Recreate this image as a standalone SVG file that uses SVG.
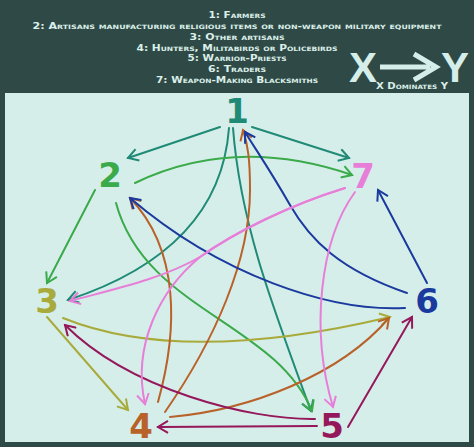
<svg xmlns="http://www.w3.org/2000/svg" width="474" height="447" viewBox="0 0 474 447">
<style>
.leg{font-family:"DejaVu Sans",sans-serif;font-weight:bold;font-size:8.5px;font-variant:small-caps;fill:#dcefe9;text-anchor:middle}
.big{font-family:"Liberation Sans",sans-serif;font-weight:bold;font-size:42px;fill:#d6eeea;text-anchor:middle}
.num{font-family:"DejaVu Sans",sans-serif;font-weight:bold;font-size:34px;text-anchor:middle}
.c{fill:none;stroke-width:2;stroke-linecap:round}
.teal{stroke:#1f8a76}.green{stroke:#3aaa4a}.olive{stroke:#a8ab3c}.orange{stroke:#b8622a}.purple{stroke:#94185a}.blue{stroke:#1b3a9e}.pink{stroke:#e77fd9}
</style>
<defs>
<marker id="mTeal" markerUnits="userSpaceOnUse" markerWidth="14" markerHeight="14" viewBox="0 0 14 14" refX="12" refY="7" orient="auto"><path d="M2,1 L12,7 L2,13" fill="none" stroke="#1f8a76" stroke-width="2"/></marker>
<marker id="mGreen" markerUnits="userSpaceOnUse" markerWidth="14" markerHeight="14" viewBox="0 0 14 14" refX="12" refY="7" orient="auto"><path d="M2,1 L12,7 L2,13" fill="none" stroke="#3aaa4a" stroke-width="2"/></marker>
<marker id="mOlive" markerUnits="userSpaceOnUse" markerWidth="14" markerHeight="14" viewBox="0 0 14 14" refX="12" refY="7" orient="auto"><path d="M2,1 L12,7 L2,13" fill="none" stroke="#a8ab3c" stroke-width="2"/></marker>
<marker id="mOrange" markerUnits="userSpaceOnUse" markerWidth="14" markerHeight="14" viewBox="0 0 14 14" refX="12" refY="7" orient="auto"><path d="M2,1 L12,7 L2,13" fill="none" stroke="#b8622a" stroke-width="2"/></marker>
<marker id="mPurple" markerUnits="userSpaceOnUse" markerWidth="14" markerHeight="14" viewBox="0 0 14 14" refX="12" refY="7" orient="auto"><path d="M2,1 L12,7 L2,13" fill="none" stroke="#94185a" stroke-width="2"/></marker>
<marker id="mBlue" markerUnits="userSpaceOnUse" markerWidth="14" markerHeight="14" viewBox="0 0 14 14" refX="12" refY="7" orient="auto"><path d="M2,1 L12,7 L2,13" fill="none" stroke="#1b3a9e" stroke-width="2"/></marker>
<marker id="mPink" markerUnits="userSpaceOnUse" markerWidth="14" markerHeight="14" viewBox="0 0 14 14" refX="12" refY="7" orient="auto"><path d="M2,1 L12,7 L2,13" fill="none" stroke="#e77fd9" stroke-width="2"/></marker>
</defs>
<rect x="0" y="0" width="474" height="447" fill="#2f4a46"/>
<rect x="5" y="93" width="464" height="349" fill="#d6eeea"/>
<g id="legend">
<text class="leg" x="237" y="18" textLength="57" lengthAdjust="spacingAndGlyphs">1: Farmers</text>
<text class="leg" x="237" y="28.8" textLength="409" lengthAdjust="spacingAndGlyphs">2: Artisans manufacturing religious items or non-weapon military equipment</text>
<text class="leg" x="237" y="39.7" textLength="95" lengthAdjust="spacingAndGlyphs">3: Other artisans</text>
<text class="leg" x="237" y="50.5" textLength="201" lengthAdjust="spacingAndGlyphs">4: Hunters, Militabirds or Policebirds</text>
<text class="leg" x="237" y="61.3" textLength="99" lengthAdjust="spacingAndGlyphs">5: Warrior-Priests</text>
<text class="leg" x="237" y="72.2" textLength="58" lengthAdjust="spacingAndGlyphs">6: Traders</text>
<text class="leg" x="237" y="83" textLength="162" lengthAdjust="spacingAndGlyphs">7: Weapon-Making Blacksmiths</text>
</g>
<g id="key">
<text class="big" x="363" y="82">X</text>
<path d="M380,67 L430,67 M414,54 L436,67 L414,80" fill="none" stroke="#d6eeea" stroke-width="5"/>
<text class="big" x="455" y="82">Y</text>
<text class="leg" x="412" y="89" textLength="72" lengthAdjust="spacingAndGlyphs">X Dominates Y</text>
</g>
<g id="connectors">
<path id="e1-2" class="c teal" d="M220,127 L128,158" marker-end="url(#mTeal)"/>
<path id="e1-7" class="c teal" d="M252,127 L349,158" marker-end="url(#mTeal)"/>
<path id="e1-3" class="c teal" d="M229,128 Q220,250 68,300" marker-end="url(#mTeal)"/>
<path id="e1-5" class="c teal" d="M233,128 C240,220 270,300 311,411" marker-end="url(#mTeal)"/>
<path id="e2-7" class="c green" d="M135,183 Q235,135 352,175" marker-end="url(#mGreen)"/>
<path id="e2-3" class="c green" d="M95,190 L47,283" marker-end="url(#mGreen)"/>
<path id="e2-5" class="c green" d="M116,203 C145,310 275,322 312,411" marker-end="url(#mGreen)"/>
<path id="e3-4" class="c olive" d="M47,317 L128,410" marker-end="url(#mOlive)"/>
<path id="e3-6" class="c olive" d="M63,318 C130,345 230,355 390,317" marker-end="url(#mOlive)"/>
<path id="e4-1" class="c orange" d="M165,412 C215,340 250,260 250,190 C250,160 248,145 243,130" marker-end="url(#mOrange)"/>
<path id="e4-2" class="c orange" d="M158,402 C178,330 180,250 130,198" marker-end="url(#mOrange)"/>
<path id="e4-6" class="c orange" d="M170,417 C250,410 340,375 389,318" marker-end="url(#mOrange)"/>
<path id="e5-4" class="c purple" d="M317,426 L158,427" marker-end="url(#mPurple)"/>
<path id="e5-3" class="c purple" d="M315,419 C250,420 130,390 65,325" marker-end="url(#mPurple)"/>
<path id="e5-6" class="c purple" d="M348,427 L412,317" marker-end="url(#mPurple)"/>
<path id="e6-7" class="c blue" d="M427,283 L378,190" marker-end="url(#mBlue)"/>
<path id="e6-2" class="c blue" d="M405,308 C330,312 220,275 130,198" marker-end="url(#mBlue)"/>
<path id="e6-1" class="c blue" d="M407,293 C340,270 310,240 290,205 C270,170 256,150 245,132" marker-end="url(#mBlue)"/>
<path id="e7-3" class="c pink" d="M345,188 C290,205 235,232 200,257 C160,280 110,290 70,301" marker-end="url(#mPink)"/>
<path id="e7-4" class="c pink" d="M345,188 C290,205 235,232 200,257 C160,290 132,345 145,404" marker-end="url(#mPink)"/>
<path id="e7-5" class="c pink" d="M355,192 C320,240 310,330 333,407" marker-end="url(#mPink)"/>
</g>
<g id="node1"><text class="num" x="237" y="123" fill="#1f8a76">1</text></g>
<g id="node2"><text class="num" x="110" y="187" fill="#3aaa4a">2</text></g>
<g id="node3"><text class="num" x="47" y="313" fill="#a8ab3c">3</text></g>
<g id="node4"><text class="num" x="141" y="438" fill="#b8622a">4</text></g>
<g id="node5"><text class="num" x="332" y="438" fill="#94185a">5</text></g>
<g id="node6"><text class="num" x="427" y="313" fill="#1b3a9e">6</text></g>
<g id="node7"><text class="num" x="363" y="188" fill="#e77fd9">7</text></g>
</svg>
